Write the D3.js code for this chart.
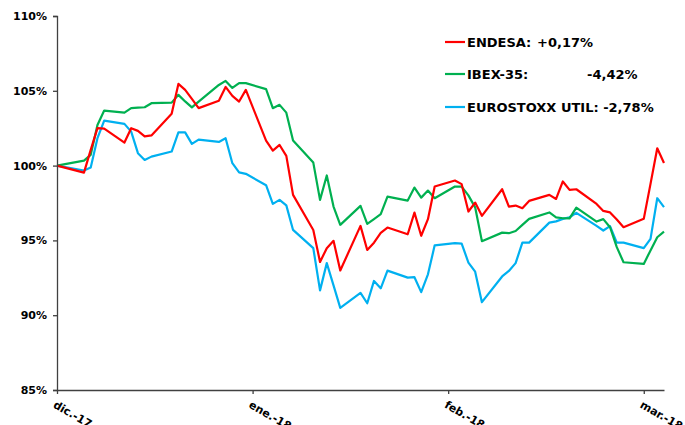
<!DOCTYPE html>
<html>
<head>
<meta charset="utf-8">
<script src="https://cdn.jsdelivr.net/npm/d3@7"></script>
<style>
	body{margin:0;background:#fff;}
	svg{display:block;font-family:"DejaVu Sans",Verdana,sans-serif;font-weight:bold;}
</style>
</head>
<body>
<div id="chart"></div>
<script>

// trading days, counted from the start of the series (day 0 = base 100%)
var days = [0,4,5,6,7, 10,11,12,13,14, 17,18,19,20,21, 24,25,26,27,28, 31,32,33,34,35,
	38,39,40,41,42, 45,46,47,48,49, 52,53,54,55,56, 59,60,61,62,63, 66,67,68,69,70,
	73,74,75,76,77, 80,81,82,83,84, 87,88,89,90];

// values in % of the starting level
var endesa = [100.00,99.53,101.05,102.50,102.47, 101.54,102.50,102.32,101.95,102.02,
	103.46,105.46,105.06,104.46,103.84, 104.34,105.26,104.66,104.28,105.06,
	101.67,101.00,101.38,100.65,98.04, 95.70,93.56,94.48,94.97,92.99,
	95.97,94.36,94.85,95.50,95.86, 95.41,96.86,95.31,96.42,98.60,
	99.00,98.76,96.93,97.53,96.64, 98.42,97.26,97.33,97.15,97.64,
	98.04,97.77,98.94,98.38,98.42, 97.44,96.97,96.87,96.40,95.88,
	96.44,98.78,101.16,100.17];

var ibex = [100.00,100.33,100.72,102.72,103.68, 103.54,103.84,103.87,103.90,104.17,
	104.21,104.73,104.29,103.89,104.28, 105.39,105.66,105.19,105.51,105.51,
	105.11,103.84,104.06,103.54,101.67, 100.20,97.71,99.34,97.26,96.04,
	97.31,96.10,96.42,96.75,97.93, 97.66,98.53,97.86,98.33,97.82,
	98.60,98.60,98.01,97.21,94.95, 95.52,95.48,95.63,96.04,96.44,
	96.87,96.54,96.48,96.47,97.19, 96.26,96.42,95.88,94.55,93.54,
	93.43,94.33,95.21,95.58];

var eurostoxx = [100.00,99.67,99.87,101.83,103.01, 102.79,102.27,100.83,100.38,100.60,
	100.94,102.22,102.22,101.45,101.74, 101.58,101.83,100.16,99.55,99.45,
	98.69,97.44,97.71,97.34,95.70, 94.48,91.66,93.48,91.99,90.49,
	91.49,90.80,92.29,91.80,92.98, 92.51,92.54,91.54,92.73,94.67,
	94.82,94.79,93.52,92.91,90.87, 92.59,92.96,93.48,94.85,94.85,
	96.19,96.27,96.44,96.55,96.84, 95.97,95.66,95.95,94.85,94.85,
	94.48,95.10,97.82,97.22];

var xTickDays = [0,29,58,87];
var xTickLabels = ["dic.-17","ene.-18","feb.-18","mar.-18"];
var yTicks = [85,90,95,100,105,110];

var seriesNames = ["ENDESA:","IBEX-35:","EUROSTOXX UTIL: -2,78%"];
var seriesChanges = ["+0,17%","-4,42%",""];
var seriesColors = ["#ff0000","#00b050","#00b0f0"];


var WIDTH=685, HEIGHT=425;
var PLOT_LEFT=57, PLOT_RIGHT=664, PLOT_TOP=16, PLOT_BOTTOM=390;
var AXIS_COLOR="#404040";

var svg = d3.select("#chart").append("svg")
	.attr("width",WIDTH)
	.attr("height",HEIGHT);

var x = d3.scaleLinear().domain([0,90]).range([PLOT_LEFT,PLOT_RIGHT]);
var y = d3.scaleLinear().domain([85,110]).range([PLOT_BOTTOM,PLOT_TOP]);


// ----------------------------------------------------------------------------------------------------------------
// ---------------------------------------------- AXES ------------------------------------------------------------
// ----------------------------------------------------------------------------------------------------------------

function drawAxes(){
	var yAxis = d3.axisLeft(y)
		.tickValues(yTicks)
		.tickSize(4)
		.tickPadding(6)
		.tickFormat(function(d){return d+"%";});

	var gy = svg.append("g")
		.attr("transform","translate("+PLOT_LEFT+",0)")
		.call(yAxis);
	gy.select(".domain").attr("stroke",AXIS_COLOR).attr("stroke-width",1.3);
	gy.selectAll(".tick line").attr("stroke",AXIS_COLOR).attr("stroke-width",1.3);
	gy.selectAll(".tick text")
		.attr("fill","#000")
		.style("font-size","11px")
		.style("font-weight","bold")
		.style("font-family","DejaVu Sans");

	var xAxis = d3.axisBottom(x)
		.tickValues(xTickDays)
		.tickSize(4)
		.tickSizeOuter(0)
		.tickFormat(function(d,i){return xTickLabels[i];});

	var gx = svg.append("g")
		.attr("transform","translate(0,"+PLOT_BOTTOM+")")
		.call(xAxis);
	gx.select(".domain").attr("stroke",AXIS_COLOR).attr("stroke-width",1.3);
	gx.selectAll(".tick line").attr("stroke",AXIS_COLOR).attr("stroke-width",1.3);
	// rotated month labels (they run off the bottom edge, as in the original)
	gx.selectAll(".tick text")
		.attr("fill","#000")
		.attr("text-anchor","start")
		.attr("dy",null)
		.attr("y",0)
		.attr("x",0)
		.attr("transform","translate(-5,17) rotate(30)")
		.style("font-size","11px")
		.style("font-weight","bold")
		.style("font-family","DejaVu Sans");
}


// ----------------------------------------------------------------------------------------------------------------
// ---------------------------------------------- LINES -----------------------------------------------------------
// ----------------------------------------------------------------------------------------------------------------

function drawLines(){
	var gLines = svg.append("g").attr("id","lines");
	var all = [endesa,ibex,eurostoxx];

	var line = d3.line()
		.x(function(d,i){return x(days[i]);})
		.y(function(d){return y(d);});

	// blue below green below red, as in the original
	for (var s=all.length-1;s>=0;s--){
		gLines.append("path")
			.datum(all[s])
			.attr("d",line)
			.attr("fill","none")
			.attr("stroke",seriesColors[s])
			.attr("stroke-width",2.2)
			.attr("stroke-linejoin","round");
	}
}


function drawLegend(){
	var gLegend = svg.append("g").attr("id","legend");
	var rowY = [42,74,107];
	for (var i=0;i<seriesNames.length;i++){
		gLegend.append("line")
			.attr("x1",445).attr("x2",465)
			.attr("y1",rowY[i]).attr("y2",rowY[i])
			.attr("stroke",seriesColors[i])
			.attr("stroke-width",2.2);
		gLegend.append("text")
			.attr("x",467).attr("y",rowY[i]+5)
			.style("font-size","13px")
			.text(seriesNames[i]);
		if (seriesChanges[i]){
			gLegend.append("text")
				.attr("x",i==0 ? 537 : 587).attr("y",rowY[i]+5)
				.style("font-size","13px")
				.text(seriesChanges[i]);
		}
	}
}

drawLines();
drawAxes();
drawLegend();

</script>
</body>
</html>
